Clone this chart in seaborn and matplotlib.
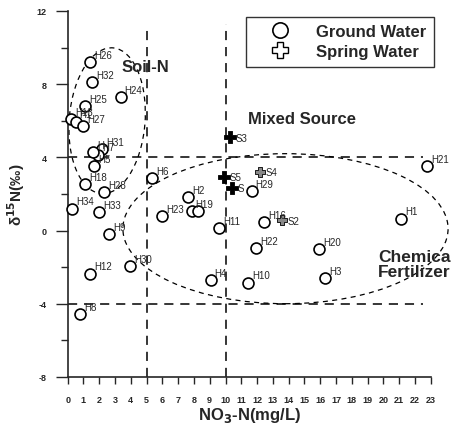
import matplotlib
matplotlib.use("Agg")
import matplotlib.pyplot as plt
from matplotlib.patches import Ellipse
from matplotlib.lines import Line2D
import seaborn as sns
import pandas as pd

# Ground water samples (NO3-N mg/L, d15N permil)
gw_names = ["H26", "H32", "H24", "H25", "H13", "H15", "H27", "H31", "H7", "H17",
            "H5", "H18", "H28", "H34", "H33", "H9", "H12", "H30", "H8", "H6",
            "H2", "H23", "H19", "H14", "H11", "H4", "H16", "H1", "H22", "H20",
            "H10", "H3", "H29", "H21"]
gw_no3 = [1.4, 1.55, 3.35, 1.1, 0.2, 0.5, 1.0, 2.2, 1.9, 1.6,
          1.7, 1.1, 2.3, 0.25, 2.0, 2.6, 1.4, 3.95, 0.8, 5.35,
          7.6, 6.0, 7.85, 8.25, 9.6, 9.05, 12.45, 21.1, 11.95, 15.95,
          11.4, 16.3, 11.65, 22.75]
gw_d15n = [9.2, 8.1, 7.3, 6.8, 6.1, 5.95, 5.7, 4.45, 4.15, 4.3,
           3.5, 2.55, 2.1, 1.2, 1.0, -0.2, -2.35, -1.95, -4.55, 2.85,
           1.85, 0.8, 1.05, 1.05, 0.15, -2.7, 0.45, 0.65, -0.95, -1.0,
           -2.85, -2.6, 2.15, 3.5]
gw_labels = ["H26", "H32", "H24", "H25", "H13", "H1", "H27", "H31", "H7", "H",
             "H5", "H18", "H28", "H34", "H33", "H9", "H12", "H30", "H8", "H6",
             "H2", "H23", "H19", "", "H11", "H4", "H16", "H1", "H22", "H20",
             "H10", "H3", "H29", "H21"]

# Spring water samples
sw_names = ["S3", "S5", "S1", "S4", "S2"]
sw_no3 = [10.3, 9.9, 10.4, 12.2, 13.55]
sw_d15n = [5.1, 2.95, 2.35, 3.2, 0.55]
sw_labels = ["S3", "S5", "S", "S4", "S2"]

x_ticks = list(range(0, 24))
y_ticks = [-8, -4, 0, 4, 8, 12]

gw = pd.DataFrame({"name": gw_names, "no3": gw_no3, "d15n": gw_d15n})
sw = pd.DataFrame({"name": sw_names, "no3": sw_no3, "d15n": sw_d15n})

sns.set_style("ticks")
plt.rcParams["font.family"] = ["Liberation Sans", "DejaVu Sans"]
plt.rcParams["axes.unicode_minus"] = False

fig = plt.figure(figsize=(4.51, 4.27), dpi=100)
ax = fig.add_axes([0.150, 0.115, 0.805, 0.857])

# source boundaries
dash = (0, (6, 4.5))
ax.plot([5, 5], [-8, 11.2], color="black", lw=1.1, ls=dash)
ax.plot([10, 10], [-8, 11.3], color="black", lw=1.1, ls=dash)
ax.plot([0, 22.5], [4, 4], color="black", lw=1.1, ls=dash)
ax.plot([0, 22.5], [-4, -4], color="black", lw=1.1, ls=dash)

ax.add_patch(Ellipse((2.5, 6.0), 4.8, 8.0, angle=-6, fill=False, ec="black",
                     lw=0.9, ls=(0, (4, 3.5)), clip_on=False))
ax.add_patch(Ellipse((13.8, 0.1), 20.6, 8.2, angle=0, fill=False, ec="black",
                     lw=0.9, ls=(0, (4, 3.5)), clip_on=False))

sns.scatterplot(data=gw, x="no3", y="d15n", marker="o", s=62, facecolor="white",
                edgecolor="black", linewidth=1.2, ax=ax, zorder=3, clip_on=False)
solid = sw[sw["name"].isin(["S3", "S5", "S1"])]
light = sw[sw["name"].isin(["S4", "S2"])]
sns.scatterplot(data=solid, x="no3", y="d15n", marker="P", s=70, facecolor="black",
                edgecolor="black", linewidth=0.6, ax=ax, zorder=4)
sns.scatterplot(data=light, x="no3", y="d15n", marker="P", s=55, facecolor="#888888",
                edgecolor="black", linewidth=0.6, ax=ax, zorder=4)

for x, y, t in zip(gw_no3, gw_d15n, gw_labels):
    ax.annotate(t, (x, y), xytext=(3, 3), textcoords="offset points",
                fontsize=7, zorder=5)
for x, y, t in zip(sw_no3, sw_d15n, sw_labels):
    ax.annotate(t, (x, y), xytext=(4, -2.5), textcoords="offset points",
                fontsize=7, zorder=5)

ax.text(3.42, 8.95, "Soil-N", fontsize=12, fontweight="bold", va="center")
ax.text(11.44, 6.14, "Mixed Source", fontsize=12, fontweight="bold", va="center")
ax.text(19.66, -1.85, "Chemical\nFertilizer", fontsize=12.5, fontweight="bold",
        va="center", linespacing=1.0)

ax.set_xlim(0, 23)
ax.set_ylim(-8, 12)
ax.set_xticks(x_ticks)
ax.set_yticks(y_ticks)
ax.set_yticks([-6, -2, 2, 6, 10], minor=True)
ax.tick_params(axis="y", which="major", length=9, width=1, labelsize=6.5, pad=6)
ax.tick_params(axis="y", which="minor", length=5, width=1)
ax.tick_params(axis="x", which="major", length=5, width=1, labelsize=6.5, pad=8)
for lbl in ax.get_xticklabels() + ax.get_yticklabels():
    lbl.set_fontweight("bold")
sns.despine(ax=ax)
for sp in ["left", "bottom"]:
    ax.spines[sp].set_linewidth(1.2)

ax.set_xlabel("NO$_\\mathbf{3}$-N(mg/L)", fontsize=12, fontweight="bold", labelpad=1)
ax.set_ylabel("δ$^\\mathbf{15}$N(‰)", fontsize=11, fontweight="bold", labelpad=7)

handles = [Line2D([], [], ls="", marker="o", ms=11, mfc="white", mec="black", mew=1.2),
           Line2D([], [], ls="", marker="P", ms=11, mfc="white", mec="black", mew=1.0)]
leg = ax.legend(handles, ["Ground Water", "Spring Water"], loc="upper left",
                bbox_to_anchor=(0.545, 0.959), bbox_transform=fig.transFigure,
                frameon=True, fancybox=False, edgecolor="black", borderpad=0.45,
                handlelength=3.2, handletextpad=0.57, labelspacing=0.3,
                borderaxespad=0, prop={"weight": "bold", "size": 12})
leg.get_frame().set_linewidth(1.0)

fig.savefig("out.png", dpi=100)
